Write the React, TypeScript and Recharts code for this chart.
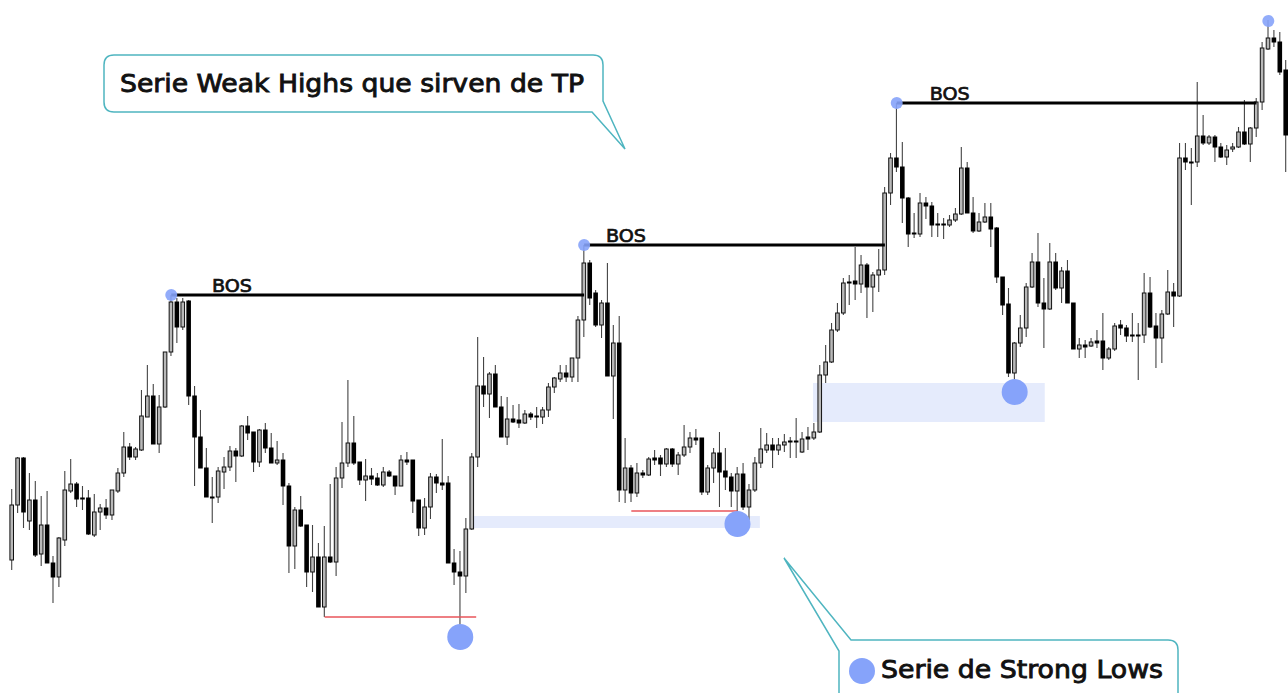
import { Bar, ComposedChart, ReferenceArea, ReferenceDot, ReferenceLine, XAxis, YAxis } from 'recharts';

// candle prices, one entry per bar (index = position on the x axis)
const opens = [
  133, 188, 235, 172, 193, 139, 168, 130, 116, 153,
  202, 209, 195, 195, 158, 181, 185, 178, 202, 220,
  246, 236, 243, 276, 297, 249, 286, 341, 391, 366,
  392, 297, 256, 225, 196, 196, 221, 226, 242, 237,
  267, 261, 231, 263, 245, 230, 233, 207, 147, 183,
  168, 121, 136, 86, 136, 131, 215, 230, 250, 231,
  213, 217, 215, 208, 221, 217, 207, 233, 233, 193,
  165, 186, 216, 210, 210, 130, 121, 117, 164, 236,
  307, 299, 319, 286, 256, 274, 273, 270, 279, 277,
  276, 283, 306, 314, 320, 316, 335, 373, 430, 400,
  368, 390, 317, 350, 203, 225, 200, 220, 218, 235,
  235, 229, 244, 229, 238, 246, 255, 255, 201, 225,
  240, 222, 216, 202, 219, 186, 203, 230, 243, 248,
  243, 248, 252, 252, 241, 256, 255, 261, 318, 331,
  363, 380, 411, 412, 409, 428, 406, 418, 423, 500,
  535, 526, 495, 460, 459, 490, 487, 469, 469, 468,
  473, 479, 525, 480, 462, 471, 476, 465, 416, 389,
  320, 350, 365, 406, 431, 390, 384, 431, 405, 422,
  390, 344, 348, 347, 352, 352, 335, 344, 368, 365,
  358, 358, 358, 400, 367, 355, 379, 401, 397, 535,
  531, 531, 557, 550, 556, 546, 536, 544, 546, 561,
  549, 565, 591, 644, 655, 651, 623,
];

const highs = [
  204, 236, 236, 220, 212, 197, 202, 137, 156, 222,
  234, 211, 207, 203, 199, 189, 194, 203, 225, 261,
  250, 246, 303, 328, 309, 298, 341, 398, 395, 395,
  393, 307, 283, 245, 216, 226, 236, 247, 245, 268,
  277, 261, 264, 270, 260, 252, 240, 210, 186, 197,
  168, 168, 150, 167, 209, 226, 271, 313, 277, 231,
  234, 225, 220, 226, 223, 217, 238, 241, 233, 193,
  195, 220, 219, 254, 217, 144, 142, 175, 240, 356,
  336, 321, 328, 297, 296, 288, 289, 283, 281, 286,
  286, 310, 316, 328, 328, 335, 377, 448, 433, 403,
  393, 430, 368, 377, 255, 228, 230, 223, 236, 243,
  238, 245, 245, 241, 268, 261, 264, 255, 228, 245,
  261, 245, 220, 226, 230, 209, 236, 265, 260, 255,
  255, 259, 256, 275, 261, 266, 270, 328, 348, 370,
  390, 415, 418, 446, 438, 430, 421, 444, 506, 540,
  590, 551, 496, 480, 500, 496, 491, 480, 475, 478,
  485, 546, 531, 496, 480, 490, 490, 466, 416, 405,
  351, 378, 410, 440, 460, 415, 450, 440, 426, 433,
  390, 355, 353, 355, 363, 380, 346, 370, 373, 368,
  380, 370, 420, 416, 380, 383, 423, 410, 550, 550,
  545, 611, 578, 558, 558, 550, 548, 550, 566, 593,
  566, 595, 651, 673, 663, 661, 633,
];

const lows = [
  123, 180, 165, 163, 136, 127, 130, 90, 106, 147,
  200, 186, 183, 158, 156, 163, 174, 173, 200, 216,
  233, 233, 242, 276, 249, 240, 285, 337, 350, 363,
  288, 207, 225, 196, 170, 190, 204, 222, 211, 236,
  253, 221, 226, 240, 230, 228, 188, 120, 124, 166,
  106, 101, 86, 76, 130, 117, 205, 226, 228, 208,
  192, 208, 207, 206, 216, 198, 207, 228, 180, 157,
  158, 174, 200, 203, 130, 108, 58, 100, 163, 226,
  286, 275, 286, 256, 248, 270, 265, 269, 273, 265,
  269, 276, 300, 311, 311, 311, 311, 356, 388, 366,
  355, 317, 274, 191, 190, 191, 196, 215, 217, 228,
  217, 226, 226, 218, 236, 240, 248, 198, 198, 210,
  186, 203, 186, 170, 183, 173, 201, 225, 240, 225,
  238, 241, 235, 235, 240, 243, 253, 260, 310, 330,
  361, 378, 388, 393, 400, 375, 381, 401, 418, 488,
  521, 470, 446, 455, 456, 474, 456, 456, 454, 466,
  471, 478, 480, 460, 461, 470, 446, 410, 378, 316,
  301, 346, 356, 405, 386, 345, 383, 403, 390, 390,
  344, 335, 335, 346, 345, 323, 333, 342, 358, 351,
  351, 313, 350, 365, 325, 330, 378, 366, 396, 523,
  488, 526, 548, 548, 531, 535, 528, 541, 545, 548,
  531, 556, 583, 643, 646, 618, 521,
];

const closes = [
  188, 235, 181, 193, 138, 168, 130, 116, 155, 203,
  209, 194, 194, 159, 181, 185, 178, 203, 220, 246,
  236, 244, 277, 297, 249, 286, 341, 391, 366, 391,
  297, 256, 225, 196, 195, 222, 226, 242, 237, 267,
  260, 231, 263, 245, 230, 233, 207, 147, 183, 167,
  121, 136, 86, 136, 131, 215, 230, 250, 230, 213,
  217, 214, 208, 221, 217, 207, 233, 231, 192, 165,
  186, 216, 210, 208, 130, 121, 117, 164, 236, 307,
  299, 319, 286, 256, 274, 271, 270, 279, 276, 276,
  283, 306, 315, 320, 316, 335, 373, 430, 395, 368,
  390, 317, 350, 203, 225, 200, 220, 218, 234, 233,
  229, 244, 229, 238, 246, 255, 253, 201, 225, 240,
  221, 216, 202, 219, 186, 203, 230, 244, 248, 243,
  248, 251, 251, 251, 254, 254, 261, 318, 331, 363,
  380, 410, 410, 409, 428, 406, 418, 423, 500, 535,
  526, 495, 459, 459, 490, 487, 468, 468, 468, 473,
  479, 525, 480, 462, 471, 476, 464, 416, 388, 320,
  350, 365, 406, 431, 390, 384, 431, 405, 422, 390,
  344, 348, 346, 351, 350, 335, 344, 367, 365, 357,
  357, 357, 400, 366, 355, 379, 401, 397, 535, 531,
  530, 557, 550, 556, 546, 536, 543, 546, 561, 549,
  565, 591, 645, 655, 651, 621, 558,
];

// break of structure levels: [from bar, to bar, price, label bar]
const bosLevels = [
  [27, 97, 398, 33.9],
  [97, 148, 448, 100.7],
  [150, 211, 590, 155.6],
];
// weak highs (bar, price)
const weakHighs = [
  [27, 398],
  [97, 448],
  [150, 590],
  [213, 672],
];
// strong lows (bar, price)
const strongLows = [
  [76, 56],
  [123, 169],
  [170, 301],
];
// swept lows drawn in red: [from bar, to bar, price]
const sweeps = [
  [53, 78.7, 76],
  [105, 123, 182],
];
// demand zones: [from bar, to bar, low, high]
const zones = [
  [77.7, 126.8, 165, 177],
  [135.8, 175.1, 271, 310],
];

const candles = opens.map((o, i) => ({
  i,
  o,
  h: highs[i],
  l: lows[i],
  c: closes[i],
  range: [lows[i], highs[i]],
}));

const W = 1288;
const H = 693;
const DOT = '#86a3fa';
const TEAL = '#4fb5c0';

function Candle(props: any) {
  const { x, y, width, height, payload } = props;
  const { o, h, l, c } = payload;
  const top = Math.min(y, y + height);
  const k = Math.abs(height) / (h - l || 1);
  const py = (v: number) => top + (h - v) * k;
  const cx = x + width / 2;
  const bodyTop = py(Math.max(o, c));
  const bh = Math.max(py(Math.min(o, c)) - bodyTop, 1);
  return (
    <g>
      <line x1={cx} x2={cx} y1={py(h)} y2={py(l)} stroke="#444" strokeWidth={1.1} />
      {c >= o ? (
        <rect x={cx - 1.8} y={bodyTop} width={3.6} height={bh} fill="#b8b8b8" stroke="#111" strokeWidth={1} />
      ) : (
        <rect x={cx - 2.3} y={bodyTop - 0.5} width={4.6} height={bh + 1} fill="#000" />
      )}
    </g>
  );
}

function Callouts() {
  const txt = {
    fontFamily: '"DejaVu Sans", sans-serif',
    fill: '#111',
    stroke: '#111',
    strokeWidth: 0.9,
  };
  return (
    <svg width={W} height={H} style={{ position: 'absolute', left: 0, top: 0, pointerEvents: 'none' }}>
      <path
        d="M 114 55 H 593 Q 603 55 603 65 V 101 L 625 149 L 592 112 H 114 Q 104 112 104 102 V 65 Q 104 55 114 55 Z"
        fill="#fff"
        stroke={TEAL}
        strokeWidth={1.5}
      />
      <text x={120} y={92} fontSize={25} textLength={464} lengthAdjust="spacingAndGlyphs" style={txt}>
        Serie Weak Highs que sirven de TP
      </text>
      <path
        d="M 839 700 V 651 L 784 558 L 851 640 H 1168 Q 1178 640 1178 650 V 700"
        fill="#fff"
        stroke={TEAL}
        strokeWidth={1.5}
      />
      <circle cx={862} cy={671} r={13} fill={DOT} />
      <text x={881} y={678} fontSize={25} textLength={282} lengthAdjust="spacingAndGlyphs" style={txt}>
        Serie de Strong Lows
      </text>
    </svg>
  );
}

export default function App() {
  return (
    <div style={{ position: 'absolute', left: 0, top: 0, width: W, height: H, background: '#fff' }}>
      <ComposedChart width={W} height={H} data={candles} margin={{ top: 0, right: 0, bottom: 0, left: 0 }}>
        <XAxis type="number" dataKey="i" domain={[-2.035, 216.34]} allowDataOverflow hide />
        <YAxis type="number" domain={[0, 693]} allowDataOverflow hide />
        {zones.map(([x1, x2, y1, y2], k) => (
          <ReferenceArea key={`z${k}`} x1={x1} x2={x2} y1={y1} y2={y2} fill="#bfcdf7" fillOpacity={0.4} stroke="none" />
        ))}
        <Bar dataKey="range" barSize={6} shape={Candle} isAnimationActive={false} />
        {bosLevels.map(([a, b, p], k) => (
          <ReferenceLine
            key={`b${k}`}
            segment={[{ x: a, y: p }, { x: b, y: p }]}
            stroke="#000"
            strokeWidth={3}
          />
        ))}
        {bosLevels.map(([, , p, at], k) => (
          <ReferenceDot
            key={`bl${k}`}
            x={at}
            y={p + 3}
            r={1}
            shape={(s: any) => (
              <text
                x={s.cx}
                y={s.cy}
                fontSize={18}
                fontFamily='"DejaVu Sans", sans-serif'
                fill="#111"
                stroke="#111"
                strokeWidth={0.7}
                textLength={40}
                lengthAdjust="spacingAndGlyphs"
              >
                BOS
              </text>
            )}
          />
        ))}
        {sweeps.map(([a, b, p], k) => (
          <ReferenceLine
            key={`s${k}`}
            segment={[{ x: a, y: p }, { x: b, y: p }]}
            stroke="#e8545a"
            strokeWidth={1.5}
          />
        ))}
        {weakHighs.map(([i, p], k) => (
          <ReferenceDot key={`w${k}`} x={i} y={p} r={6} fill={DOT} fillOpacity={0.9} stroke="none" ifOverflow="visible" />
        ))}
        {strongLows.map(([i, p], k) => (
          <ReferenceDot key={`l${k}`} x={i} y={p} r={13} fill={DOT} stroke="none" ifOverflow="visible" />
        ))}
      </ComposedChart>
      <Callouts />
    </div>
  );
}
